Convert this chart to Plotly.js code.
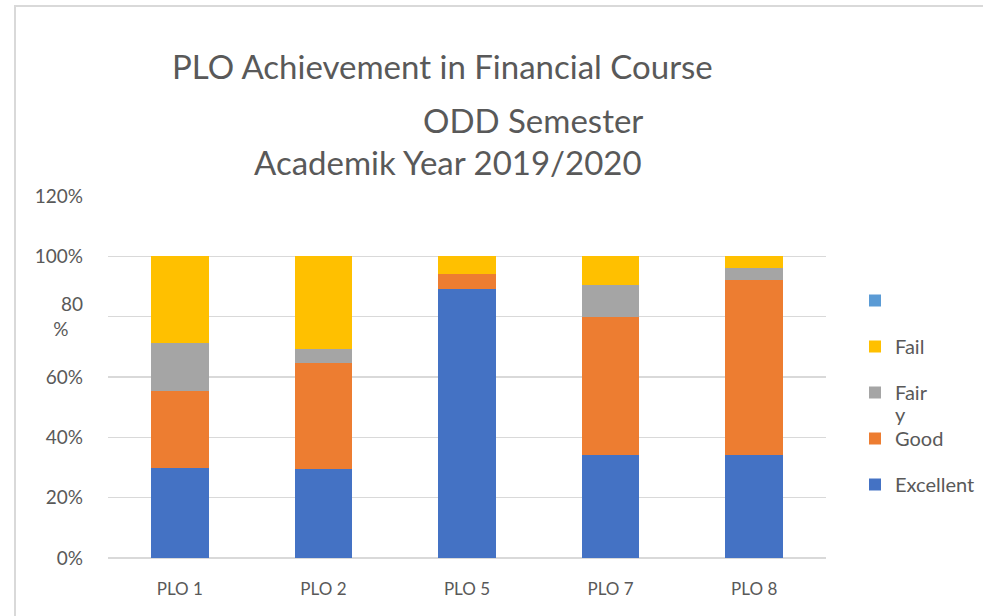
<!DOCTYPE html>
<html>
<head>
<meta charset="utf-8">
<script src="https://cdn.plot.ly/plotly-3.0.1.min.js"></script>
<style>
  html, body { margin: 0; padding: 0; background: #fff; }
  #wrap { position: relative; width: 983px; height: 616px; overflow: hidden; }
  #chart { position: absolute; left: 0; top: 0; width: 983px; height: 616px; }
  #frame { position: absolute; left: 14px; top: 5px; width: 980px; height: 620px;
           border-left: 2px solid #d9d9d9; border-top: 2px solid #d9d9d9; pointer-events: none; }
</style>
</head>
<body>
<div id="wrap">
  <div id="chart"></div>
  <div id="frame"></div>
</div>
<script>
// ---- data ----
const categories = ["PLO 1", "PLO 2", "PLO 5", "PLO 7", "PLO 8"];
const excellent = [0.300, 0.294, 0.891, 0.342, 0.342];
const good      = [0.253, 0.351, 0.052, 0.457, 0.578];
const fair      = [0.161, 0.048, 0.000, 0.106, 0.043];
const fail      = [0.286, 0.307, 0.057, 0.095, 0.037];
const blank     = [0, 0, 0, 0, 0];
const seriesNames = ["Excellent", "Good", "Fair", "Fail", " "];
const legendRanks = [5, 4, 3, 2, 1];
const fairWrap = "y";
const tickVals  = [0, 0.2, 0.4, 0.6, 0.8, 1.0, 1.2];
const tickText  = ["0%", "20%", "40%", "60%", "80<br>%\u00a0\u00a0\u00a0", "100%", "120%"];
const titleLines = ["PLO Achievement in Financial Course", "ODD Semester", "Academik Year 2019/2020"];

const colors = ["#4472C4", "#ED7D31", "#A5A5A5", "#FFC000", "#5B9BD5"];
const values = [excellent, good, fair, fail, blank];

const FONT = "Lato, 'Open Sans', sans-serif";
const GREY = "#595959";

const traces = values.map((v, i) => ({
  type: "bar",
  x: categories,
  y: v,
  name: seriesNames[i],
  legendgroup: "g" + i,
  legendrank: legendRanks[i],
  marker: { color: colors[i], line: { width: 0 } },
  hoverinfo: "x+y+name"
}));

const L = 108, R = 826, T = 196, B = 558;
const px = x => (x - L) / (R - L);
const py = y => (B - y) / (B - T);

const layout = {
  width: 983, height: 616,
  margin: { l: L, r: 983 - R, t: T, b: 616 - B, pad: 0, autoexpand: false },
  paper_bgcolor: "rgba(0,0,0,0)",
  plot_bgcolor: "#fff",
  barmode: "stack",
  bargap: 0.6,
  font: { family: FONT, color: GREY, size: 17 },
  xaxis: {
    type: "category",
    showgrid: false, zeroline: false, showline: false,
    ticks: "", tickfont: { size: 17, color: GREY },
    ticklabelstandoff: 19
  },
  yaxis: {
    range: [0, 1.2],
    tickvals: tickVals, ticktext: tickText,
    showgrid: true, gridcolor: "#d9d9d9", gridwidth: 1.5,
    zeroline: true, zerolinecolor: "#d9d9d9", zerolinewidth: 1.5,
    showline: false, ticks: "",
    tickfont: { size: 19, color: GREY },
    ticklabelstandoff: 24
  },
  legend: {
    x: px(855), y: py(281), xanchor: "left", yanchor: "top",
    traceorder: "grouped",
    tracegroupgap: 17,
    valign: "middle",
    font: { size: 20, color: GREY },
    itemwidth: 30,
    bgcolor: "rgba(0,0,0,0)"
  },
  showlegend: true,
  annotations: [
    { text: titleLines[0], x: px(442), y: py(66), xref: "paper", yref: "paper",
      xanchor: "center", yanchor: "middle", showarrow: false, font: { size: 33, color: GREY } },
    { text: titleLines[1], x: px(533), y: py(120), xref: "paper", yref: "paper",
      xanchor: "center", yanchor: "middle", showarrow: false, font: { size: 33, color: GREY } },
    { text: titleLines[2], x: px(448), y: py(162), xref: "paper", yref: "paper",
      xanchor: "center", yanchor: "middle", showarrow: false, font: { size: 33, color: GREY } },
    { text: fairWrap, x: px(893), y: py(414), xref: "paper", yref: "paper",
      xanchor: "left", yanchor: "middle", showarrow: false, font: { size: 20, color: GREY } }
  ]
};

Plotly.newPlot("chart", traces, layout, { displayModeBar: false, staticPlot: true });
</script>
</body>
</html>
